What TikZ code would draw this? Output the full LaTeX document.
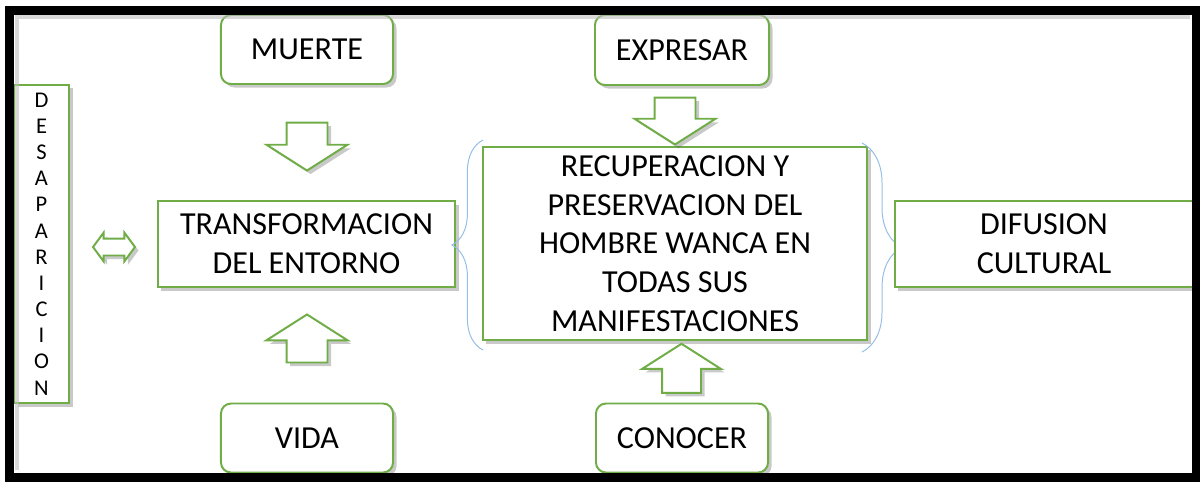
\documentclass[tikz,border=0pt]{standalone}
\usepackage{fontspec}
\setmainfont{Carlito}
\usetikzlibrary{shapes.arrows,shadows,decorations.pathreplacing}
\definecolor{verdeof}{RGB}{112,173,71}
\definecolor{azulllave}{RGB}{150,190,228}

\begin{document}
\begin{tikzpicture}[x=0.025cm,y=-0.025cm,
    sombra/.style={drop shadow={shadow xshift=2.5pt,shadow yshift=-2.5pt,opacity=0.3,fill=black!70}},
    caja/.style={draw=verdeof,line width=1.4pt,fill=white,inner sep=0pt,align=center,
      font=\fontsize{22.8}{27.5}\selectfont,sombra},
    cajaredonda/.style={caja,rounded corners=0.25cm,minimum width=4.3cm,minimum height=1.725cm},
    flecha/.style={single arrow,draw=verdeof,line width=1.4pt,fill=white,inner xsep=0pt,
      inner ysep=0.4875cm,minimum height=1.2cm,minimum width=1.975cm,single arrow head extend=0.5cm,
      single arrow tip angle=115,sombra},
    llave/.style={draw=azulllave,line width=0.7pt,decorate}]
  \useasboundingbox (0,0) rectangle (1200,482);
  % Columna izquierda
  \node[caja,minimum width=1.375cm,minimum height=7.95cm,
    font=\fontsize{16}{18.6}\selectfont] (desap) at (41.5,244)
    {D\\E\\S\\A\\P\\A\\R\\I\\C\\I\\O\\N};
  \node[double arrow,draw=verdeof,line width=1.4pt,fill=white,inner xsep=0pt,inner ysep=0.1875cm,
    minimum height=1.05cm,minimum width=0.675cm,double arrow head extend=0.15cm,
    double arrow tip angle=107,sombra] (dobleflecha) at (114,247) {};
  % Bloque del entorno
  \node[caja,minimum width=7.425cm,minimum height=2.15cm] (transf) at (306.5,244)
    {TRANSFORMACION\\DEL ENTORNO};
  \node[cajaredonda] (muerte) at (307,49.5) {MUERTE};
  \node[cajaredonda] (vida) at (307,438) {VIDA};
  \node[flecha,rotate=-90] (flechamuerte) at (307,140) {};
  \node[flecha,rotate=90] (flechavida) at (307,345) {};
  % Bloque central
  \node[caja,minimum width=9.6cm,minimum height=4.825cm] (recup) at (675,243.5)
    {RECUPERACION Y\\PRESERVACION DEL\\HOMBRE WANCA EN\\TODAS SUS\\MANIFESTACIONES};
  \node[cajaredonda,minimum width=4.35cm,minimum height=1.75cm] (expresar) at (682,50) {EXPRESAR};
  \node[cajaredonda] (conocer) at (682,438) {CONOCER};
  \node[flecha,rotate=-90,minimum height=1.175cm] (flechaexpresar) at (675,114.5) {};
  \node[flecha,rotate=90,minimum height=1.225cm,minimum width=1.925cm,inner ysep=0.4625cm] (flechaconocer) at (681.5,374.5) {};
  % Llaves
  \draw[llave,decoration={brace,amplitude=0.78cm}] (483,350) -- (483,140);
  \draw[llave,decoration={brace,amplitude=1cm}] (862,143) -- (862,352);
  % Columna derecha
  \node[caja,minimum width=7.45cm,minimum height=2.15cm] (difusion) at (1044,244)
    {DIFUSION\\CULTURAL};
  % Marco
  \draw[black!25,line width=3pt,opacity=0.6] (17,470) -- (17,17) -- (1190,17);
  \draw[line width=0.225cm] (9.5,10) rectangle (1196,477.5);
\end{tikzpicture}
\end{document}
